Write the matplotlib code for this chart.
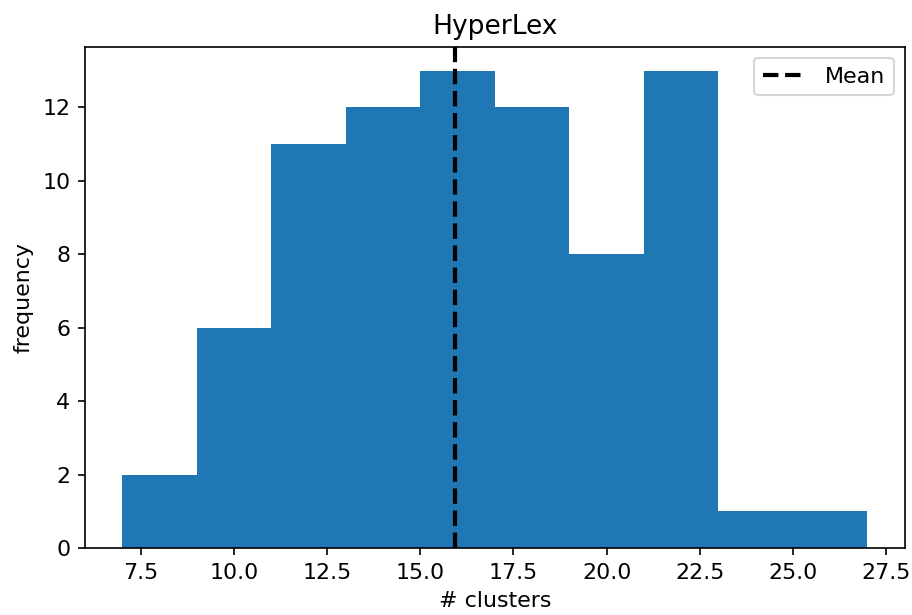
import matplotlib
matplotlib.use("Agg")
import matplotlib.pyplot as plt

# histogram data
bin_edges = [7, 9, 11, 13, 15, 17, 19, 21, 23, 25, 27]
counts = [2, 6, 11, 12, 13, 12, 8, 13, 1, 1]
mean_clusters = 15.92

centers = [(a + b) / 2 for a, b in zip(bin_edges[:-1], bin_edges[1:])]

plt.rcParams["font.size"] = 10.6

fig, ax = plt.subplots(figsize=(6.08, 4.1), dpi=150)
fig.subplots_adjust(left=0.093, right=0.992, top=0.924, bottom=0.109)

ax.hist(centers, bins=bin_edges, weights=counts, color="#1f77b4")
ax.axvline(mean_clusters, color="black", linestyle="--", linewidth=2, label="Mean")

ax.set_title("HyperLex")
ax.set_xlabel("# clusters")
ax.set_ylabel("frequency")
ax.legend(loc="upper right")

fig.savefig("out.png", dpi=150)
